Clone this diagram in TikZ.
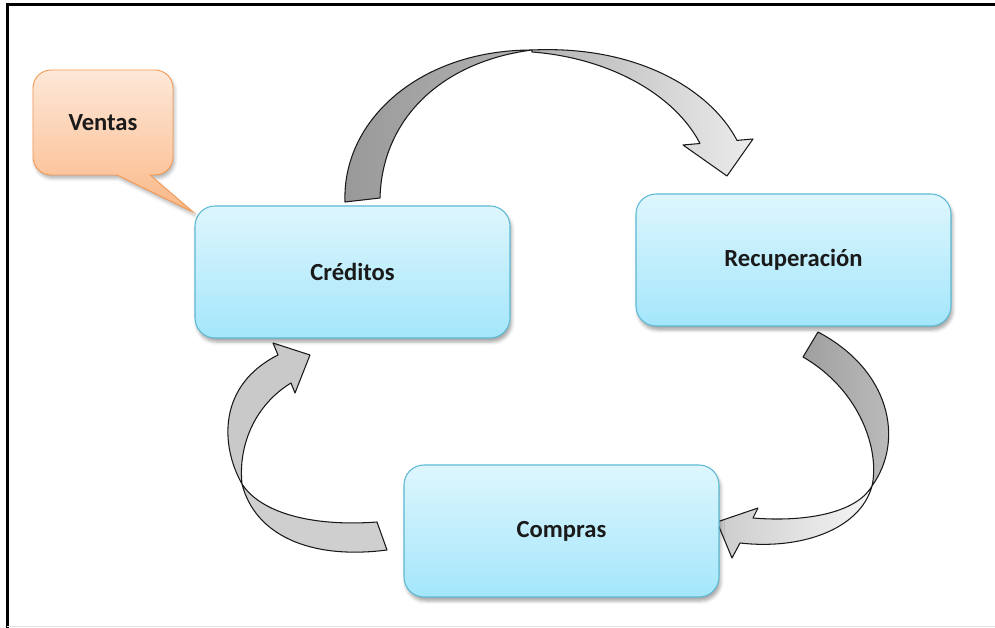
\documentclass[tikz,border=0pt]{standalone}
\usepackage{fontspec}
\setmainfont{Carlito}
\usepackage{xcolor}
\usepackage{tikz}
\usetikzlibrary{shadows.blur}

\definecolor{cajaborde}{HTML}{5DB9D4}
\definecolor{cajaarriba}{HTML}{DEF6FD}
\definecolor{cajaabajo}{HTML}{A4E6FB}
\definecolor{globoborde}{HTML}{F59A55}
\definecolor{globoarriba}{HTML}{FDE8D8}
\definecolor{globoabajo}{HTML}{FBB888}
\definecolor{textoscuro}{HTML}{1A1A1A}

\begin{document}
\begin{tikzpicture}[x=0.3mm, y=-0.3mm,
    etapa/.style={rectangle, rounded corners=6mm, draw=cajaborde, line width=0.9pt,
        top color=cajaarriba, bottom color=cajaabajo, minimum width=94.5mm, minimum height=39.6mm,
        font=\fontsize{21}{24}\selectfont\bfseries, text=textoscuro,
        blur shadow={shadow xshift=0.5mm, shadow yshift=-1.2mm, shadow blur radius=1mm, shadow opacity=35}},
    cinta/.style={draw=black!90, line width=0.9pt, line join=round},
    globo/.style={draw=globoborde, line width=0.8pt, top color=globoarriba, bottom color=globoabajo,
        blur shadow={shadow xshift=0.5mm, shadow yshift=-1mm, shadow blur radius=1mm, shadow opacity=30}}
]
    \useasboundingbox (0,0) rectangle (995,628);

    % Marco
    \draw[black, line width=0.9mm] (7,628) -- (7,5) -- (995,5);
    \draw[black!12, line width=0.3mm] (7,626) -- (995,626);

    % Flecha superior
    \path[cinta, left color=gray!80, right color=gray!60]
        (345,202) .. controls (342,120) and (420,50) .. (532,50)
        .. controls (440,62) and (382,120) .. (380,198) -- cycle;
    \path[cinta, left color=gray!60, right color=gray!15]
        (532,50) .. controls (640,45) and (712,92) .. (737,140.4)
        -- (753,139) -- (727,176) -- (683,145) -- (700,143.5)
        .. controls (675,95) and (610,58) .. (532,52) -- cycle;

    % Flecha derecha
    \path[cinta, left color=gray!75, right color=gray!50]
        (818,332) .. controls (890,370) and (905,440) .. (872,486)
        .. controls (880,450) and (860,390) .. (803,357) -- cycle;
    \path[cinta, left color=gray!40, right color=gray!8]
        (872,486) .. controls (855,515) and (800,522) .. (753,518)
        -- (758,508) -- (717,522) -- (732,558) -- (740,543)
        .. controls (800,550) and (860,530) .. (872,486) -- cycle;

    % Flecha izquierda
    \path[cinta, fill=gray!42]
        (242,484) .. controls (220,445) and (218,385) .. (278,355)
        -- (273,343) -- (310,355) -- (295,393) -- (291,383)
        .. controls (255,405) and (238,445) .. (242,484) -- cycle;
    \path[cinta, fill=gray!38]
        (242,484) .. controls (260,512) and (310,527) .. (377,522)
        -- (387,550) .. controls (310,560) and (255,535) .. (242,484) -- cycle;

    % Etapas del ciclo
    \node[etapa] (creditos) at (352.5,272) {Créditos};
    \node[etapa] (recuperacion) at (793.5,260) {Recuperación};
    \node[etapa] (compras) at (561.5,531) {Compras};

    % Globo
    \path[globo] (193,212) -- (117,175)
        {[rounded corners=5.4mm] -- (33,175) -- (33,70) -- (173,70) -- (173,175)}
        -- (150,175) -- cycle;
    \node[font=\fontsize{21}{24}\selectfont\bfseries, text=textoscuro] (ventas) at (103,123) {Ventas};
\end{tikzpicture}
\end{document}
